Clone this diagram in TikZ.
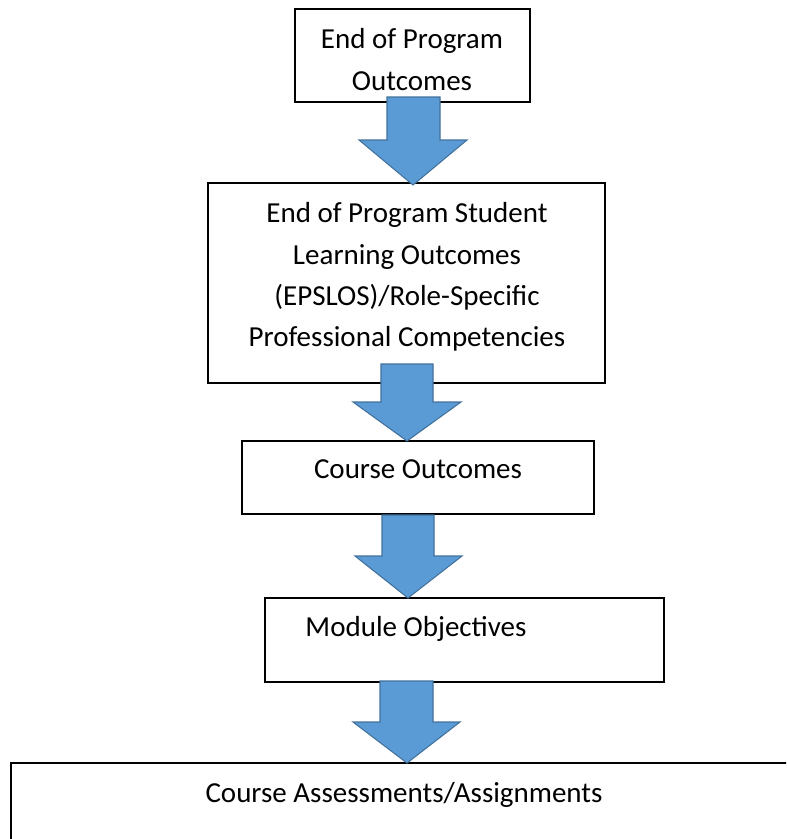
\documentclass[tikz,border=0pt]{standalone}
\usepackage{fontspec}
\setmainfont{Carlito}
\definecolor{arrfill}{HTML}{5B9BD5}
\definecolor{arrline}{HTML}{41719C}
\tikzset{
  x=0.75pt, y=-0.75pt,
  boxline/.style={draw=black, line width=1.1pt, fill=white},
  blockarrow/.style={fill=arrfill, draw=arrline, line width=0.8pt, line join=miter},
  lbl/.style={anchor=base, inner sep=0pt, font=\fontsize{21.75pt}{31pt}\selectfont}
}
\begin{document}
\begin{tikzpicture}
\useasboundingbox (0,0) rectangle (786,839);
\clip (0,0) rectangle (786,839);
% boxes
\draw[boxline] (295,9) rectangle (530,102);
\draw[boxline] (208,183) rectangle (605,383);
\draw[boxline] (242,441) rectangle (594,514);
\draw[boxline] (265,598) rectangle (664,682);
\draw[boxline] (11,763) rectangle (800,880);
% texts
\node[lbl] (t1a) at (412,48) {End of Program};
\node[lbl] (t1b) at (412,90) {Outcomes};
\node[lbl] (t2a) at (407,222) {End of Program Student};
\node[lbl] (t2b) at (407,264) {Learning Outcomes};
\node[lbl] (t2c) at (407,305) {(EPSLOS)/Role-Specific};
\node[lbl] (t2d) at (407,346) {Professional Competencies};
\node[lbl] (t3) at (418,478) {Course Outcomes};
\node[lbl] (t4) at (416,636) {Module Objectives};
\node[lbl] (t5) at (404,802) {Course Assessments/Assignments};
% arrows
\draw[blockarrow] (387,97) -- (440,97) -- (440,140) -- (467,140) -- (413,185) -- (359,140) -- (387,140) -- cycle;
\draw[blockarrow] (381,364) -- (433,364) -- (433,402) -- (461,402) -- (407,441) -- (353,402) -- (381,402) -- cycle;
\draw[blockarrow] (382,515) -- (434,515) -- (434,556) -- (462,556) -- (408,598) -- (355,556) -- (382,556) -- cycle;
\draw[blockarrow] (380,681) -- (433,681) -- (433,722) -- (460,722) -- (407,763) -- (353,722) -- (380,722) -- cycle;
\end{tikzpicture}
\end{document}
